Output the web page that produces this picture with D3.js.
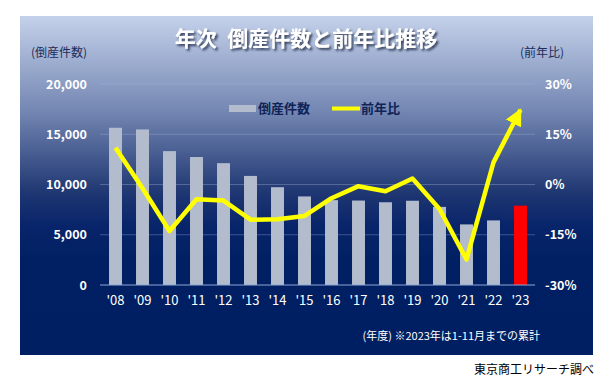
<!DOCTYPE html>
<html><head><meta charset="utf-8">
<script src="https://cdn.jsdelivr.net/npm/d3@7"></script>
<style>
html,body{margin:0;padding:0;background:#fff;}
svg{display:block;}
text{font-family:"Noto Sans CJK JP","Noto Sans",sans-serif;}
</style></head>
<body><svg id="c" width="613" height="386"></svg>
<script>
const years = ["'08","'09","'10","'11","'12","'13","'14","'15","'16","'17","'18","'19","'20","'21","'22","'23"];
const counts = [15646,15480,13321,12734,12124,10855,9731,8812,8446,8405,8235,8383,7773,6030,6428,7893];
const yoy = [11.0,-1.1,-13.9,-4.4,-4.8,-10.5,-10.4,-9.4,-4.1,-0.5,-2.0,1.8,-7.3,-22.4,6.6,22.3];
const leftTicks = [0,5000,10000,15000,20000];
const rightTicks = [-30,-15,0,15,30];

const svg = d3.select("#c");
const defs = svg.append("defs");
const g = defs.append("linearGradient").attr("id","bg").attr("x1",0).attr("y1",0).attr("x2",0).attr("y2",1);
[[0,"#c4d1ea"],[0.28,"#7487b3"],[0.52,"#1f3772"],[0.62,"#08246a"],[0.72,"#012063"],[1,"#001f62"]].forEach(([o,c])=>g.append("stop").attr("offset",o).attr("stop-color",c));
const f = defs.append("filter").attr("id","sh").attr("x","-10%").attr("y","-30%").attr("width","120%").attr("height","160%");
f.append("feGaussianBlur").attr("in","SourceAlpha").attr("stdDeviation",1.2);
f.append("feOffset").attr("dx",2).attr("dy",2).attr("result","b");
f.append("feFlood").attr("flood-color","#1a2540").attr("flood-opacity",0.8);
f.append("feComposite").attr("in2","b").attr("operator","in");
const fm = f.append("feMerge"); fm.append("feMergeNode"); fm.append("feMergeNode").attr("in","SourceGraphic");

defs.append("marker").attr("id","arr").attr("viewBox","0 0 10 10").attr("refX",9).attr("refY",5)
  .attr("markerWidth",3.8).attr("markerHeight",3.8).attr("orient","auto").attr("markerUnits","strokeWidth")
  .append("path").attr("d","M0,0L10,5L0,10z").attr("fill","#ffff00");

svg.append("rect").attr("x",20).attr("y",16).attr("width",573).attr("height",339).attr("fill","url(#bg)");

const x = d3.scaleBand().domain(years).range([102,534]).paddingInner(0.52).paddingOuter(0.26);
const yL = d3.scaleLinear().domain([0,20000]).range([285,84]);
const yR = d3.scaleLinear().domain([-30,30]).range([285,84]);

// gridlines
svg.append("g").selectAll("line").data(leftTicks.slice(1)).join("line")
  .attr("x1",100).attr("x2",535).attr("y1",d=>yL(d)).attr("y2",d=>yL(d))
  .attr("stroke","#a9b8d8").attr("stroke-opacity",0.35).attr("stroke-width",1);

// bars
svg.append("g").selectAll("rect").data(counts).join("rect")
  .attr("x",(d,i)=>x(years[i])).attr("width",x.bandwidth())
  .attr("y",d=>yL(d)).attr("height",d=>yL(0)-yL(d))
  .attr("fill",(d,i)=>i===counts.length-1?"#ff0000":"#b3bccd");

// baseline
svg.append("line").attr("x1",100).attr("x2",535).attr("y1",yL(0)).attr("y2",yL(0)).attr("stroke","#8ea6d6").attr("stroke-width",1);

// line
const line = d3.line().x((d,i)=>x(years[i])+x.bandwidth()/2).y(d=>yR(d)).curve(d3.curveLinear);
svg.append("path").datum(yoy).attr("d",line).attr("fill","none").attr("stroke","#ffff00")
  .attr("stroke-width",4.5).attr("stroke-linejoin","round").attr("marker-end","url(#arr)");

// left axis
const la = svg.append("g").attr("transform","translate(87,0)")
  .call(d3.axisLeft(yL).tickValues(leftTicks).tickSize(0).tickPadding(0).tickFormat(d3.format(",")));
la.select(".domain").remove();
la.selectAll("text").attr("fill","#ffffff").attr("font-weight","bold").attr("font-family","Verdana,'DejaVu Sans',sans-serif").style("font-size","12.5px");

// right axis
const ra = svg.append("g").attr("transform","translate(545,0)")
  .call(d3.axisRight(yR).tickValues(rightTicks).tickSize(0).tickPadding(0).tickFormat(d=>d+"%"));
ra.select(".domain").remove();
ra.selectAll("text").attr("fill","#ffffff").attr("font-weight","bold").attr("font-family","Verdana,'DejaVu Sans',sans-serif").style("font-size","12.5px");

// x axis
const xa = svg.append("g").attr("transform","translate(0,"+yL(0)+")")
  .call(d3.axisBottom(x).tickSize(0).tickPadding(11));
xa.select(".domain").remove();
xa.selectAll("text").attr("fill","#ffffff").style("font-size","13px").attr("font-family","Tahoma,'DejaVu Sans',sans-serif");

// title
svg.append("text").attr("x",306).attr("y",46).attr("text-anchor","middle").attr("fill","#ffffff")
  .attr("font-weight","bold").style("font-size","21px").attr("filter","url(#sh)").text("年次\u2002倒産件数と前年比推移");

// axis titles
svg.append("text").attr("x",31).attr("y",57).attr("fill","#1c2c5c").style("font-size","12px").text("(倒産件数)");
svg.append("text").attr("x",520).attr("y",57).attr("fill","#1c2c5c").style("font-size","12px").text("(前年比)");

// legend
svg.append("rect").attr("x",229).attr("y",105).attr("width",27).attr("height",7).attr("fill","#b3bccd");
svg.append("text").attr("x",258).attr("y",113).attr("fill","#0f2358").attr("font-weight","bold").style("font-size","13px").text("倒産件数");
svg.append("line").attr("x1",332).attr("x2",360).attr("y1",108.5).attr("y2",108.5).attr("stroke","#ffff00").attr("stroke-width",4);
svg.append("text").attr("x",361).attr("y",113).attr("fill","#0f2358").attr("font-weight","bold").style("font-size","13px").text("前年比");

// note
svg.append("text").attr("x",540).attr("y",340).attr("text-anchor","end").attr("fill","#ffffff").style("font-size","11px").text("(年度) ※2023年は1-11月までの累計");
svg.append("text").attr("x",594).attr("y",374).attr("text-anchor","end").attr("fill","#000000").style("font-size","12px").text("東京商工リサーチ調べ");
</script></body></html>
